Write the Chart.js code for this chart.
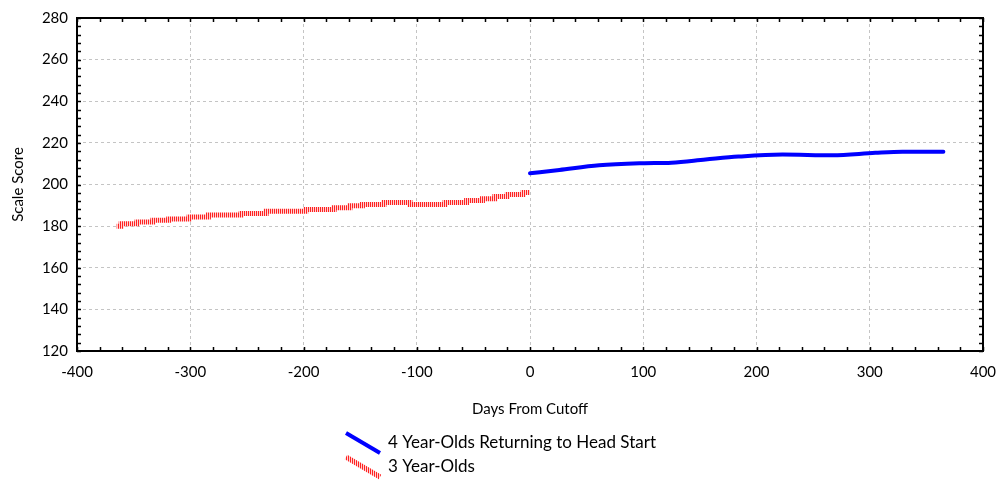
<!DOCTYPE html>
<html>
<head>
<meta charset="utf-8">
<title>Scale Score by Days From Cutoff</title>
<script src="https://cdn.jsdelivr.net/npm/chart.js@4/dist/chart.umd.min.js"></script>
<style>
  html, body { margin: 0; padding: 0; background: #fff; }
  #wrap { width: 1002px; height: 480px; position: relative; }
</style>
</head>
<body>
<div id="wrap"><canvas id="chart_scaleScoreByCutoff"></canvas></div>
<script>
// 4 year-olds returning to Head Start (smooth curve, right of cutoff)
var days4 = [0, 26, 61, 99, 125, 155, 184, 223, 267, 305, 329, 365];
var score4 = [205.4, 207.0, 209.2, 210.2, 210.5, 212.0, 213.4, 214.4, 214.0, 215.2, 215.7, 215.7];

// 3 year-olds (step line, left of cutoff)
var days3 = [-365, -361, -347, -333, -319, -301, -284, -255, -233, -198, -173, -159, -148, -129, -106, -75, -56, -42, -31, -20, -6, 0];
var score3 = [179.9, 181.2, 182.0, 182.8, 183.4, 184.4, 185.3, 186.1, 187.1, 188.0, 188.8, 189.8, 190.4, 191.4, 190.4, 191.4, 192.3, 193.1, 194.2, 195.2, 196.1, 196.1];

var seriesLabels = ['4 Year-Olds Returning to Head Start', '3 Year-Olds'];

var fontFamily = 'Lato, "Open Sans", sans-serif';

function toPoints(xs, ys) {
    return xs.map(function(x, i) { return {x: x, y: ys[i]}; });
}

// striped red stroke like the original hatched line
var stripe = document.createElement('canvas');
stripe.width = 2;
stripe.height = 1;
var sctx = stripe.getContext('2d');
sctx.fillStyle = '#ff2222';
sctx.fillRect(0, 0, 1, 1);
sctx.fillStyle = '#ffd4d4';
sctx.fillRect(1, 0, 1, 1);
var redPattern = sctx.createPattern(stripe, 'repeat');

var chart_scaleScoreByCutoff = new Chart(document.getElementById('chart_scaleScoreByCutoff'), {
    type: 'line',
    data: {
        datasets: [
            {
                label: seriesLabels[0],
                data: toPoints(days4, score4),
                borderColor: '#0000ff',
                borderWidth: 4,
                pointRadius: 0,
                cubicInterpolationMode: 'monotone',
                borderCapStyle: 'round'
            },
            {
                label: seriesLabels[1],
                data: toPoints(days3, score3),
                borderColor: redPattern,
                borderWidth: 5,
                pointRadius: 0,
                stepped: true
            }
        ]
    },
    options: {
        animation: false,
        responsive: true,
        maintainAspectRatio: false,
        layout: {
            padding: {top: 18, right: 19, bottom: 59, left: 0}
        },
        plugins: {
            legend: {display: false},
            tooltip: {enabled: false}
        },
        scales: {
            x: {
                type: 'linear',
                min: -400,
                max: 400,
                title: {
                    display: true,
                    text: 'Days From Cutoff',
                    color: '#000',
                    font: {family: fontFamily, size: 15},
                    padding: {top: 0, bottom: 3}
                },
                ticks: {
                    stepSize: 100,
                    color: '#000',
                    padding: 12,
                    maxRotation: 0,
                    font: {family: fontFamily, size: 15}
                },
                grid: {
                    color: '#c4c4c4',
                    lineWidth: 1,
                    drawTicks: false
                },
                border: {display: false, dash: [3, 3]},
                afterFit: function(scale) {
                    scale.height = 70;
                    scale.paddingLeft = 0;
                    scale.paddingRight = 0;
                }
            },
            y: {
                type: 'linear',
                min: 120,
                max: 280,
                title: {
                    display: true,
                    text: 'Scale Score',
                    color: '#000',
                    font: {family: fontFamily, size: 15},
                    padding: {top: 9, bottom: 0}
                },
                ticks: {
                    stepSize: 20,
                    color: '#000',
                    padding: 9,
                    font: {family: fontFamily, size: 15}
                },
                grid: {
                    color: '#c4c4c4',
                    lineWidth: 1,
                    drawTicks: false
                },
                border: {display: false, dash: [3, 3]},
                afterFit: function(scale) { scale.width = 77; }
            }
        }
    },
    plugins: [{
        id: 'frameAndTicks',
        afterDraw: function(chart) {
            var ctx = chart.ctx;
            var a = chart.chartArea;
            var xs = chart.scales.x, ys = chart.scales.y;
            ctx.save();
            ctx.strokeStyle = '#000';
            ctx.lineWidth = 1.5;
            ctx.beginPath();
            for (var v = -400; v <= 400; v += 20) {
                var px = Math.round(xs.getPixelForValue(v)) + 0.5;
                ctx.moveTo(px, a.bottom); ctx.lineTo(px, a.bottom - 4);
                ctx.moveTo(px, a.top); ctx.lineTo(px, a.top + 4);
            }
            for (var w = 120; w <= 280; w += 4) {
                var py = Math.round(ys.getPixelForValue(w)) + 0.5;
                ctx.moveTo(a.left, py); ctx.lineTo(a.left + 4, py);
                ctx.moveTo(a.right, py); ctx.lineTo(a.right - 4, py);
            }
            ctx.stroke();
            ctx.lineWidth = 2;
            ctx.strokeRect(a.left, a.top, a.right - a.left, a.bottom - a.top);
            ctx.restore();
        }
    }, {
        id: 'stackedLegend',
        afterDraw: function(chart) {
            var ctx = chart.ctx;
            var sets = chart.data.datasets;
            ctx.save();
            ctx.font = '17px ' + fontFamily;
            var maxW = 0;
            sets.forEach(function(ds) { maxW = Math.max(maxW, ctx.measureText(ds.label).width); });
            var symW = 34, gap = 8;
            var x0 = Math.round((chart.width - (symW + gap + maxW)) / 2);
            var y0 = chart.chartArea.bottom + 92;
            sets.forEach(function(ds, i) {
                var cy = y0 + i * 24;
                ctx.strokeStyle = ds.borderColor;
                ctx.lineWidth = ds.borderWidth;
                ctx.lineCap = 'butt';
                ctx.beginPath();
                ctx.moveTo(x0, cy - 10);
                ctx.lineTo(x0 + symW, cy + 10);
                ctx.stroke();
                ctx.fillStyle = '#000';
                ctx.textBaseline = 'middle';
                ctx.fillText(ds.label, x0 + symW + gap, cy);
            });
            ctx.restore();
        }
    }, {
        id: 'whiteBackground',
        beforeDraw: function(chart) {
            var ctx = chart.canvas.getContext('2d');
            ctx.save();
            ctx.globalCompositeOperation = 'destination-over';
            ctx.fillStyle = 'white';
            ctx.fillRect(0, 0, chart.canvas.width, chart.canvas.height);
            ctx.restore();
        }
    }]
});
</script>
</body>
</html>
